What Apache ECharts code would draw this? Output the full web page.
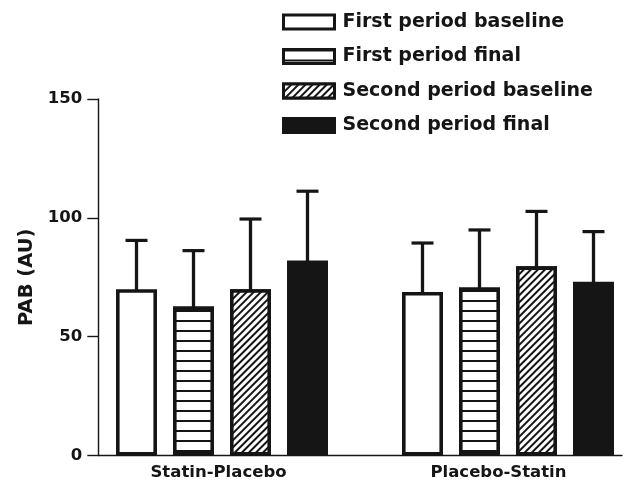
<!DOCTYPE html>
<html>
<head>
<meta charset="utf-8">
<script src="https://cdn.jsdelivr.net/npm/echarts@6/dist/echarts.min.js"></script>
<style>html,body{margin:0;padding:0;background:#fff;}#c{width:635px;height:490px;}</style>
</head>
<body>
<div id="c"></div>
<script>
// ---- data ----
var categories = ['Statin-Placebo', 'Placebo-Statin'];
var seriesNames = ['First period baseline', 'First period final', 'Second period baseline', 'Second period final'];
var firstBaselineMean  = [70.0, 68.8];
var firstBaselineSD    = [20.5, 20.6];
var firstFinalMean     = [62.7, 70.7];
var firstFinalSD       = [23.5, 24.2];
var secondBaselineMean = [70.0, 79.6];
var secondBaselineSD   = [29.5, 23.1];
var secondFinalMean    = [82.1, 73.1];
var secondFinalSD      = [29.1, 21.1];
var yTicks = [0, 50, 100, 150];

var means = [firstBaselineMean, firstFinalMean, secondBaselineMean, secondFinalMean];
var sds = [firstBaselineSD, firstFinalSD, secondBaselineSD, secondFinalSD];

// ---- style ----
var INK = '#151515';
var FONT = 'DejaVu Sans';
var BAR_W = 41, BAR_GAP = 16, BORDER = 3.6;

var fills = [
  { color: '#fff' },
  { color: '#fff', decal: { symbol: 'rect', symbolSize: 1, color: INK, backgroundColor: '#fff',
      dashArrayX: [1, 0], dashArrayY: [1.5, 7.5], rotation: 0 } },
  { color: '#fff', decal: { symbol: 'rect', symbolSize: 1, color: INK, backgroundColor: '#fff',
      dashArrayX: [1, 0], dashArrayY: [1.1, 2.9], rotation: -Math.PI / 4 } },
  { color: INK }
];

var series = [];
seriesNames.forEach(function (name, k) {
  var st = { color: fills[k].color, borderColor: INK, borderWidth: BORDER };
  if (fills[k].decal) st.decal = fills[k].decal;
  series.push({
    name: name,
    type: 'bar',
    xAxisIndex: 0, yAxisIndex: 0,
    barWidth: BAR_W,
    barGap: (BAR_GAP / BAR_W * 100) + '%',
    clip: false,
    data: means[k],
    itemStyle: st,
    emphasis: { disabled: true },
    z: 2
  });
});
seriesNames.forEach(function (name, k) {
  var data = categories.map(function (c, i) { return [i, means[k][i], sds[k][i]]; });
  series.push({
    type: 'custom',
    xAxisIndex: 0, yAxisIndex: 0,
    data: data,
    z: 3,
    clip: false,
    silent: true,
    renderItem: function (params, api) {
      var ci = api.value(0), m = api.value(1), s = api.value(2);
      var off = (k - 1.5) * (BAR_W + BAR_GAP);
      var p0 = api.coord([ci, m]);
      var p1 = api.coord([ci, m + s]);
      var x = p0[0] + off;
      return {
        type: 'group',
        children: [
          { type: 'line', shape: { x1: x, y1: p0[1] + 1, x2: x, y2: p1[1] },
            style: { stroke: INK, lineWidth: 3.3 } },
          { type: 'line', shape: { x1: x - 11, y1: p1[1], x2: x + 11, y2: p1[1] },
            style: { stroke: INK, lineWidth: 3.2 } }
        ]
      };
    }
  });
});

var chart = echarts.init(document.getElementById('c'));
chart.setOption({
  animation: false,
  backgroundColor: '#fff',
  legend: {
    data: seriesNames,
    orient: 'vertical',
    left: 277, top: 7,
    icon: 'rect',
    itemWidth: 51, itemHeight: 14,
    itemGap: 14.5,
    itemStyle: { borderWidth: 3, borderColor: INK },
    textStyle: { fontFamily: FONT, fontWeight: 'bold', fontSize: 19, color: INK, lineHeight: 20, padding: [0, 0, 0, 3] },
    selectedMode: false
  },
  grid: [
    { left: 222, width: 286, top: 99, bottom: 34.5 },
    { left: 98.3, right: 13, top: 99, bottom: 34.5 }
  ],
  xAxis: [
    { type: 'category', gridIndex: 0, boundaryGap: false, data: [
        { value: categories[0], textStyle: { padding: [0, 7, 0, 0] } },
        { value: categories[1], textStyle: { padding: [0, 19, 0, 0] } }
      ],
      axisLine: { show: false }, axisTick: { show: false },
      axisLabel: { margin: 9, fontFamily: FONT, fontWeight: 'bold', fontSize: 16.5, color: INK } },
    { type: 'value', gridIndex: 1, min: 0, max: 1,
      axisLine: { show: true, onZero: false, lineStyle: { color: INK, width: 1.4 } },
      axisTick: { show: false }, axisLabel: { show: false }, splitLine: { show: false } }
  ],
  yAxis: [
    { type: 'value', gridIndex: 0, min: 0, max: 150, interval: 50, show: false },
    { type: 'value', gridIndex: 1, min: yTicks[0], max: yTicks[yTicks.length - 1], interval: 50,
      name: 'PAB (AU)', nameLocation: 'middle', nameGap: 60,
      nameTextStyle: { fontFamily: FONT, fontWeight: 'bold', fontSize: 19.5, color: INK },
      axisLine: { show: true, lineStyle: { color: INK, width: 1.4 } },
      axisTick: { show: true, length: 11, lineStyle: { color: INK, width: 1.4 } },
      axisLabel: { margin: 16, fontFamily: FONT, fontWeight: 'bold', fontSize: 16.5, color: INK },
      splitLine: { show: false } }
  ],
  series: series
});
</script>
</body>
</html>
